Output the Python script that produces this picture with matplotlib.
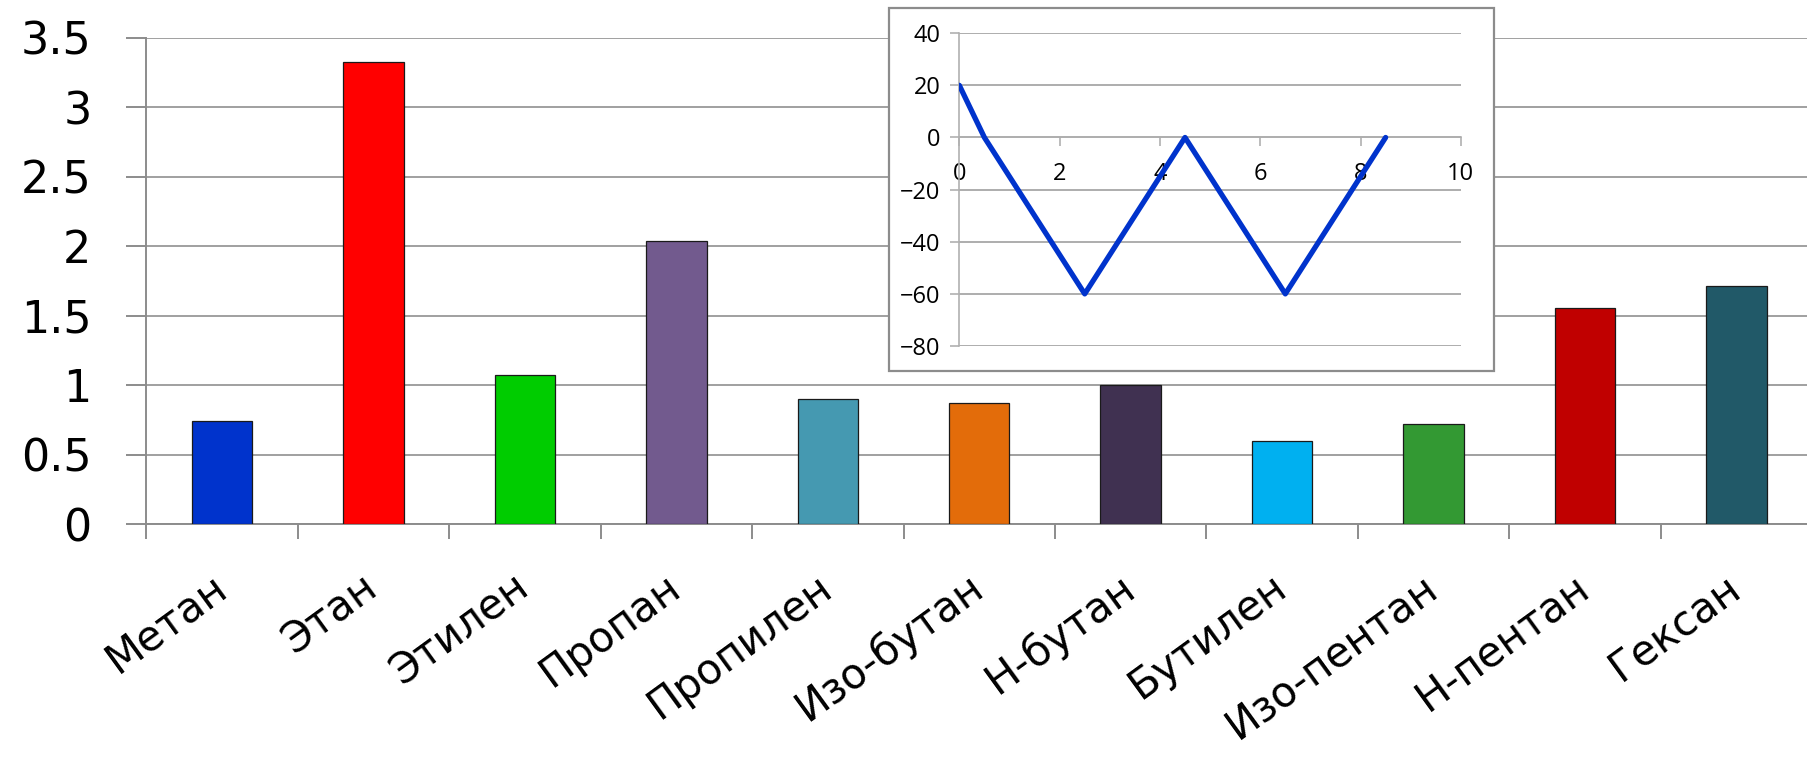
import matplotlib
matplotlib.use("Agg")
import matplotlib.pyplot as plt
from matplotlib.patches import Rectangle

# bar chart data
gases = ["Метан", "Этан", "Этилен", "Пропан", "Пропилен", "Изо-бутан",
         "Н-бутан", "Бутилен", "Изо-пентан", "Н-пентан", "Гексан"]
values = [0.74, 3.325, 1.072, 2.038, 0.899, 0.873, 1.0, 0.596, 0.721, 1.553, 1.713]
colors = ["#0033CC", "#FF0000", "#00CC00", "#725A8E", "#4599B1", "#E36C0A",
          "#403151", "#00B0F0", "#339933", "#C00000", "#215968"]
y_ticks = [0, 0.5, 1, 1.5, 2, 2.5, 3, 3.5]

# small line chart in the corner
line_x = [0, 0.5, 2.5, 4.5, 6.5, 8.5]
line_y = [20, 0, -60, 0, -60, 0]
inset_xticks = [0, 2, 4, 6, 8, 10]
inset_yticks = [-80, -60, -40, -20, 0, 20, 40]

grid_col = "#A0A0A0"
axis_col = "#8C8C8C"

fig = plt.figure(figsize=(18.08, 7.58), dpi=100)
fig.patch.set_facecolor("white")

ax = fig.add_axes([0.081, 0.3087, 0.9212, 0.6412])
pos = list(range(len(gases)))
ax.bar(pos, values, width=0.4, color=colors, edgecolor="#1a1a1a", linewidth=0.9, zorder=3)
ax.set_xlim(-0.5, len(gases) - 0.5)
ax.set_ylim(0, 3.5)
ax.set_yticks(y_ticks)
ax.set_yticklabels(["0", "0.5", "1", "1.5", "2", "2.5", "3", "3.5"])
ax.yaxis.grid(True, color=grid_col, linewidth=1.4, zorder=0)
ax.set_axisbelow(True)
for s in ["top", "right"]:
    ax.spines[s].set_visible(False)
for s in ["left", "bottom"]:
    ax.spines[s].set_color(axis_col)
    ax.spines[s].set_linewidth(1.4)
ax.tick_params(axis="y", direction="out", length=14.5, width=1.4, color=axis_col,
               labelsize=32, pad=25)

# category boundaries get the tick marks, names sit under the centres
ax.set_xticks(pos)
ax.set_xticks([p - 0.5 for p in pos] + [len(gases) - 0.5], minor=True)
ax.tick_params(axis="x", which="minor", direction="out", length=11, width=1.4, color=axis_col)
ax.tick_params(axis="x", which="major", length=0, pad=42)
ax.set_xticklabels(gases, fontsize=30, rotation=36, ha="right", va="center",
                   rotation_mode="anchor")

# framed line chart on top of the bars
fig.patches.append(Rectangle((0.4915, 0.5106), 0.3346, 0.4789, transform=fig.transFigure,
                             facecolor="white", edgecolor=axis_col, linewidth=1.6, zorder=5))

ins = fig.add_axes([0.5306, 0.5435, 0.2774, 0.4127])
ins.set_zorder(6)
ins.patch.set_alpha(0)
ins.plot(line_x, line_y, color="#0033CC", linewidth=3.8, solid_capstyle="round", zorder=4)
ins.set_xlim(0, 10)
ins.set_ylim(-80, 40)
ins.set_xticks(inset_xticks)
ins.set_yticks(inset_yticks)
ins.yaxis.grid(True, color=grid_col, linewidth=1.2)
ins.set_axisbelow(True)
ins.spines["top"].set_visible(False)
ins.spines["right"].set_visible(False)
ins.spines["bottom"].set_position(("data", 0))
for s in ["left", "bottom"]:
    ins.spines[s].set_color("#B0B0B0")
    ins.spines[s].set_linewidth(1.2)
ins.tick_params(axis="both", direction="out", length=6.5, width=1.2, color="#B0B0B0",
                labelsize=17)
ins.tick_params(axis="x", pad=11)
ins.tick_params(axis="y", pad=7)
for lab in ins.get_xticklabels() + ins.get_yticklabels():
    lab.set_family("Open Sans")

fig.savefig("out.png", dpi=100, facecolor="white")
